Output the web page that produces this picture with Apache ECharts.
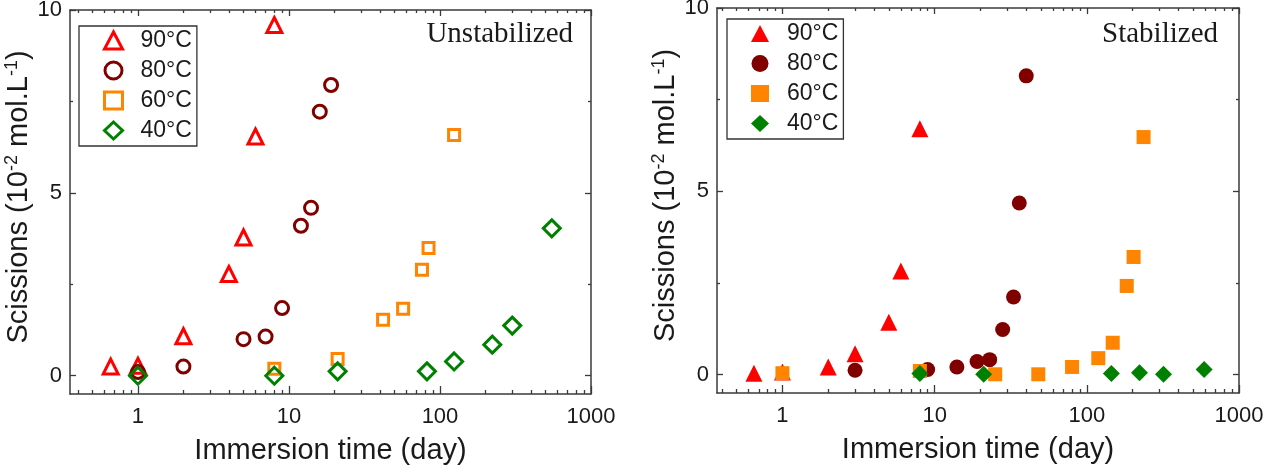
<!DOCTYPE html>
<html lang="en">
<head>
  <meta charset="UTF-8">
  <title>Scissions vs immersion time</title>
  <script src="https://cdn.jsdelivr.net/npm/echarts@6.0.0/dist/echarts.min.js"></script>
  <style>
    html, body { margin: 0; padding: 0; background: #fff; }
    #chart { width: 1275px; height: 466px; }
  </style>
</head>
<body>
  <div id="chart"></div>
<script>
  // Unstabilized panel (days, scissions 10^-2 mol/L)
  const u90Days = [0.66, 1, 2, 4, 5, 6, 8];
  const u90Sc = [0.25, 0.27, 1.08, 2.78, 3.78, 6.54, 9.59];
  const u80Days = [1, 2, 5, 7, 9, 12, 14, 16, 19];
  const u80Sc = [0.1, 0.25, 1.0, 1.07, 1.85, 4.1, 4.59, 7.22, 7.95];
  const u60Days = [8, 21, 42, 57, 76, 84, 124];
  const u60Sc = [0.19, 0.46, 1.53, 1.83, 2.9, 3.49, 6.58];
  const u40Days = [1, 8, 21, 82, 124, 222, 301, 550];
  const u40Sc = [0, 0, 0.12, 0.12, 0.39, 0.85, 1.37, 4.03];

  // Stabilized panel
  const s90Days = [0.65, 1, 2, 3, 5, 6, 8];
  const s90Sc = [0.04, 0.07, 0.21, 0.57, 1.43, 2.83, 6.71];
  const s80Days = [3, 9, 14, 19, 23, 28, 33, 36, 40];
  const s80Sc = [0.12, 0.14, 0.21, 0.36, 0.41, 1.23, 2.12, 4.68, 8.15];
  const s60Days = [1, 8, 25, 48, 80, 119, 148, 183, 203, 236];
  const s60Sc = [0.04, 0.1, 0.01, 0.01, 0.21, 0.45, 0.87, 2.42, 3.21, 6.48];
  const s40Days = [8, 21, 145, 222, 319, 590];
  const s40Sc = [0.03, 0.01, 0.03, 0.05, 0.01, 0.14];

  const tempLabels = ['90°C', '80°C', '60°C', '40°C'];
  const xMajor = [1, 10, 100, 1000];
  const xMinor = [0.4, 0.5, 0.6, 0.7, 0.8, 0.9, 2, 3, 4, 5, 6, 7, 8, 9,
    20, 30, 40, 50, 60, 70, 80, 90, 200, 300, 400, 500, 600, 700, 800, 900];
  const yMajor = [0, 5, 10];
  const yMinor = [2.5, 7.5];

  const colors = ['#ff0000', '#800000', '#ff8400', '#008000'];
  const symbols = ['triangle', 'circle', 'rect', 'diamond'];
  const sansFont = '"Liberation Sans", Arial, sans-serif';
  const lineColor = '#3a3a3a';
  const textColor = '#1a1a1a';

  const chart = echarts.init(document.getElementById('chart'));

  const toPts = (days, sc) => days.map((d, i) => [Math.log10(d), sc[i]]);

  function xAxes(gi, min) {
    const base = {
      gridIndex: gi, type: 'value', min: min, max: 3,
      splitLine: { show: false },
      axisLine: { show: false, onZero: false },
      axisLabel: { show: false }
    };
    const tick = (vals, len) => ({
      show: true, inside: true, length: len,
      customValues: vals.map(Math.log10),
      lineStyle: { color: lineColor, width: 1.3 }
    });
    const minors = xMinor.filter(v => Math.log10(v) > min);
    return [
      Object.assign({}, base, {
        position: 'bottom',
        axisLine: { show: true, onZero: false, lineStyle: { color: lineColor, width: 1.5 } },
        axisTick: tick(xMajor, 8),
        axisLabel: {
          show: true, margin: 12, customValues: xMajor.map(Math.log10),
          formatter: v => String(Math.round(Math.pow(10, v))),
          fontFamily: sansFont, fontSize: 22, color: textColor
        },
        name: 'Immersion time (day)', nameLocation: 'middle', nameGap: 42,
        nameTextStyle: { fontFamily: sansFont, fontSize: 29, color: textColor }
      }),
      Object.assign({}, base, { position: 'bottom', axisTick: tick(minors, 4) }),
      Object.assign({}, base, {
        position: 'top',
        axisLine: { show: true, onZero: false, lineStyle: { color: lineColor, width: 1.5 } },
        axisTick: tick(xMajor, 6)
      }),
      Object.assign({}, base, { position: 'top', axisTick: tick(minors, 3) })
    ];
  }

  function yAxes(gi) {
    const base = {
      gridIndex: gi, type: 'value', min: -0.5, max: 10,
      splitLine: { show: false },
      axisLine: { show: false, onZero: false },
      axisLabel: { show: false }
    };
    const tick = (vals, len) => ({
      show: true, inside: true, length: len, customValues: vals,
      lineStyle: { color: lineColor, width: 1.3 }
    });
    return [
      Object.assign({}, base, {
        position: 'left',
        axisLine: { show: true, onZero: false, lineStyle: { color: lineColor, width: 1.5 } },
        axisTick: tick(yMajor, 6),
        axisLabel: {
          show: true, margin: 8, customValues: yMajor,
          fontFamily: sansFont, fontSize: 22, color: textColor
        },
        name: '{a|Scissions (10}{s|-2}{a| mol.L}{s|-1}{a|)}',
        nameLocation: 'middle', nameGap: 30,
        nameTextStyle: {
          padding: [0, 0, 0, 10],
          rich: {
            a: { fontFamily: sansFont, fontSize: 29, color: textColor, lineHeight: 33 },
            s: { fontFamily: sansFont, fontSize: 18, color: textColor, verticalAlign: 'top', lineHeight: 18 }
          }
        }
      }),
      Object.assign({}, base, { position: 'left', axisTick: tick(yMinor, 3) }),
      Object.assign({}, base, {
        position: 'right',
        axisLine: { show: true, onZero: false, lineStyle: { color: lineColor, width: 1.5 } },
        axisTick: tick(yMajor, 6)
      }),
      Object.assign({}, base, { position: 'right', axisTick: tick(yMinor, 3) })
    ];
  }

  function panelSeries(prefix, axisIdx, sets, hollow) {
    return sets.map((s, i) => ({
      name: prefix + i,
      type: 'scatter',
      xAxisIndex: axisIdx, yAxisIndex: axisIdx,
      data: toPts(s[0], s[1]),
      symbol: symbols[i],
      symbolSize: hollow ? [15, 13, 11, 17][i] : [17, 15, 14, 17][i],
      itemStyle: hollow
        ? { color: 'rgba(255,255,255,0)', borderColor: colors[i], borderWidth: 3, opacity: 1 }
        : { color: colors[i], opacity: 1 },
      emphasis: { disabled: true }
    }));
  }

  const uSeries = panelSeries('u', 0,
    [[u90Days, u90Sc], [u80Days, u80Sc], [u60Days, u60Sc], [u40Days, u40Sc]], true);
  const sSeries = panelSeries('s', 4,
    [[s90Days, s90Sc], [s80Days, s80Sc], [s60Days, s60Sc], [s40Days, s40Sc]], false);

  function legendFor(prefix, left, top, hollow) {
    return {
      orient: 'vertical', left: left, top: top,
      data: [0, 1, 2, 3].map(i => prefix + i),
      formatter: name => tempLabels[+name.slice(1)],
      selectedMode: false,
      borderColor: '#333', borderWidth: 1.3, borderRadius: 0,
      padding: [3, 5, 4, 24],
      itemWidth: 18, itemHeight: 17, itemGap: 7,
      itemStyle: hollow ? { borderWidth: 3 } : {},
      textStyle: { fontFamily: sansFont, fontSize: 23, color: textColor, lineHeight: 22, padding: [0, 0, 0, 13] }
    };
  }

  chart.setOption({
    animation: false,
    grid: [
      { left: 70, top: 10, width: 521, height: 384, outerBoundsMode: 'none' },
      { left: 717, top: 8, width: 522, height: 385, outerBoundsMode: 'none' }
    ],
    xAxis: xAxes(0, -0.45).concat(xAxes(1, -0.43)),
    yAxis: yAxes(0).concat(yAxes(1)),
    legend: [legendFor('u', 79, 26, true), legendFor('s', 727, 19, false)],
    graphic: [
      { type: 'text', x: 573, y: 49, style: { text: 'Unstabilized', textAlign: 'right', textVerticalAlign: 'bottom', fontFamily: '"Liberation Serif", "Times New Roman", serif', fontSize: 29, fill: textColor } },
      { type: 'text', x: 1218, y: 49, style: { text: 'Stabilized', textAlign: 'right', textVerticalAlign: 'bottom', fontFamily: '"Liberation Serif", "Times New Roman", serif', fontSize: 29, fill: textColor } }
    ],
    series: uSeries.concat(sSeries)
  });
</script>
</body>
</html>
